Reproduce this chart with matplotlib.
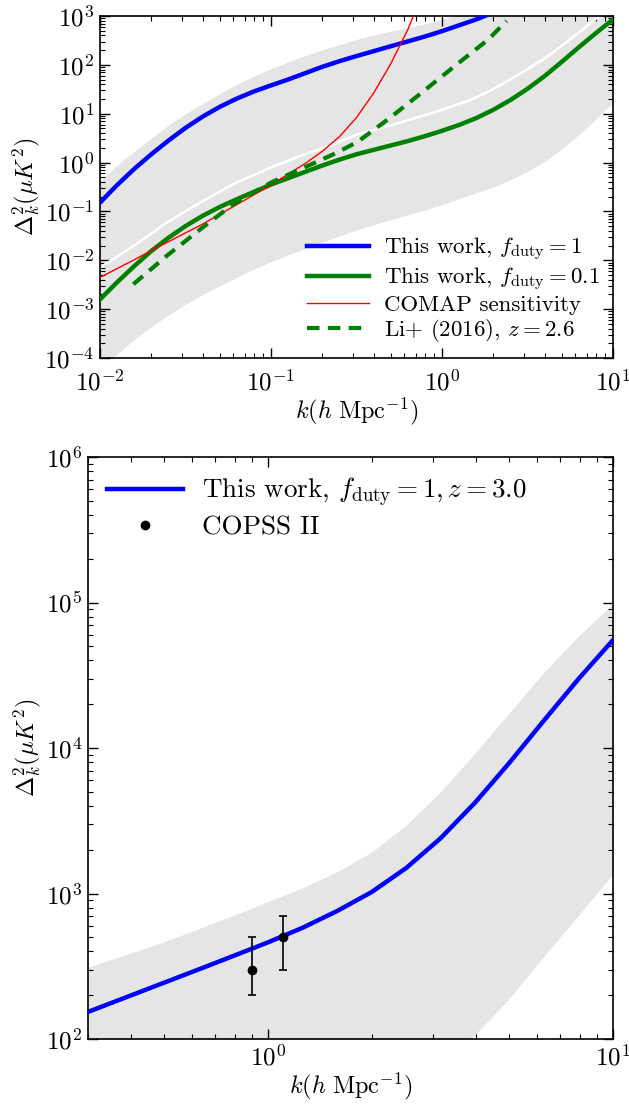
import matplotlib
matplotlib.use("Agg")
import matplotlib.pyplot as plt
import numpy as np
from matplotlib.lines import Line2D

plt.rcParams['font.family'] = 'serif'
plt.rcParams['font.serif'] = ['cmr10']
plt.rcParams['mathtext.fontset'] = 'cm'
plt.rcParams['axes.formatter.use_mathtext'] = True

# ---------------- top panel data (log10 k, log10 Delta^2) ----------------
lk_blue = [-2.0, -1.9, -1.8, -1.7, -1.6, -1.5, -1.4, -1.3, -1.2, -1.1, -1.0, -0.9, -0.8, -0.7,
           -0.6, -0.5, -0.4, -0.3, -0.2, -0.1, 0.0, 0.1, 0.2, 0.25]
ly_blue = [-0.82, -0.46, -0.13, 0.17, 0.45, 0.71, 0.94, 1.14, 1.31, 1.455, 1.58, 1.70, 1.83, 1.96,
           2.075, 2.18, 2.28, 2.38, 2.48, 2.58, 2.69, 2.81, 2.93, 3.0]

lk_green = [-2.0, -1.9, -1.8, -1.7, -1.6, -1.5, -1.4, -1.3, -1.2, -1.1, -1.0, -0.9, -0.8, -0.7,
            -0.6, -0.5, -0.4, -0.3, -0.2, -0.1, 0.0, 0.1, 0.2, 0.3, 0.4, 0.5, 0.6, 0.7, 0.8, 0.9, 1.0]
ly_green = [-2.80, -2.45, -2.12, -1.81, -1.54, -1.30, -1.09, -0.91, -0.75, -0.60, -0.45, -0.32, -0.19,
            -0.06, 0.06, 0.17, 0.26, 0.35, 0.44, 0.54, 0.65, 0.77, 0.91, 1.08, 1.28, 1.51, 1.77, 2.06,
            2.36, 2.65, 2.93]

lk_red = [-2.0, -1.9, -1.8, -1.7, -1.6, -1.5, -1.4, -1.3, -1.2, -1.1, -1.0, -0.9, -0.8, -0.7,
          -0.6, -0.5, -0.4, -0.3, -0.2, -0.168]
ly_red = [-2.35, -2.17, -1.99, -1.80, -1.62, -1.44, -1.26, -1.06, -0.86, -0.66, -0.46, -0.235, -0.02,
          0.23, 0.53, 0.92, 1.42, 2.02, 2.72, 3.0]

lk_li = [-1.805, -1.61, -1.415, -1.22, -1.0, -0.83, -0.635, -0.495, -0.314, -0.119, 0.076, 0.271, 0.378]
ly_li = [-2.49, -1.91, -1.37, -0.85, -0.41, -0.14, 0.17, 0.42, 0.89, 1.43, 1.98, 2.52, 2.90]

lk_mid = [-2.0, -1.805, -1.61, -1.415, -1.22, -1.0, -0.83, -0.635, -0.495, -0.3, -0.119, 0.0, 0.173,
          0.3, 0.466, 0.6, 0.70, 0.8, 0.895, 1.0]
ly_mid = [-2.15, -1.71, -1.23, -0.82, -0.44, -0.10, 0.135, 0.37, 0.58, 0.76, 0.95, 1.08, 1.29,
          1.50, 1.84, 2.13, 2.39, 2.66, 2.93, 3.2]

lk_band = [-2.0, -1.9, -1.8, -1.7, -1.6, -1.5, -1.4, -1.3, -1.2, -1.1, -1.0, -0.9, -0.8, -0.7, -0.6,
           -0.5, -0.4, -0.3, -0.2, -0.1, 0.0, 0.1, 0.2, 0.3, 0.4, 0.5, 0.6, 0.7, 0.8, 0.9, 1.0]
ly_band_up = [-0.38, -0.05, 0.23, 0.50, 0.77, 1.00, 1.21, 1.41, 1.60, 1.77, 1.92, 2.06, 2.19, 2.31, 2.42,
              2.52, 2.61, 2.69, 2.76, 2.84, 2.93, 3.03, 3.15, 3.3, 3.4, 3.5, 3.6, 3.7, 3.8, 3.9, 4.0]
ly_band_lo = [-4.3, -3.92, -3.62, -3.36, -3.12, -2.90, -2.70, -2.52, -2.35, -2.18, -2.03, -1.89, -1.76,
              -1.63, -1.50, -1.38, -1.27, -1.17, -1.07, -0.97, -0.86, -0.74, -0.62, -0.50, -0.35, -0.18,
              0.02, 0.28, 0.57, 0.89, 1.23]

# ---------------- bottom panel data (log10 k, log10 Delta^2) ----------------
lk_b2 = [-0.523, -0.4, -0.3, -0.2, -0.1, 0.0, 0.1, 0.2, 0.3, 0.4, 0.5, 0.6, 0.7, 0.8, 0.9, 1.0]
ly_b2 = [2.186, 2.298, 2.389, 2.480, 2.572, 2.665, 2.765, 2.880, 3.010, 3.175, 3.38, 3.625, 3.90,
         4.19, 4.475, 4.742]
ly_band2_up = [2.495, 2.59, 2.67, 2.76, 2.85, 2.945, 3.04, 3.15, 3.285, 3.47, 3.70, 3.965, 4.245,
               4.52, 4.77, 4.99]
ly_band2_lo = [1.2, 1.25, 1.3, 1.37, 1.43, 1.5, 1.57, 1.63, 1.7, 1.79, 1.87, 2.03, 2.28, 2.57, 2.85, 3.134]

k_copss = [0.9, 1.1]
y_copss = [300, 500]
err_lo = [100, 200]
err_hi = [200, 200]

band_color = '#e5e5e5'


def p(a):
    return np.power(10.0, np.asarray(a))


fig = plt.figure(figsize=(6.29, 11.04), dpi=100)
ax1 = fig.add_axes([100/629, 1 - 358/1104, 513/629, 342/1104])
ax2 = fig.add_axes([88/629, 1 - 1039/1104, 525/629, 582/1104])

for ax in (ax1, ax2):
    ax.set_xscale('log')
    ax.set_yscale('log')
    ax.tick_params(which='both', direction='in', top=True, right=True, labelsize=18, pad=4)
    ax.tick_params(which='major', length=7, width=1)
    ax.tick_params(which='minor', length=3.5, width=0.8)
    for s in ax.spines.values():
        s.set_linewidth(1.2)
ax1.tick_params(axis='x', which='both', pad=8)
ax2.tick_params(axis='x', which='both', pad=4)

# top
ax1.fill_between(p(lk_band), p(ly_band_lo), p(ly_band_up), color=band_color, lw=0, zorder=1)
ax1.plot(p(lk_mid), p(ly_mid), color='white', lw=1.8, zorder=2)
l1, = ax1.plot(p(lk_blue), p(ly_blue), color='blue', lw=3.2, zorder=3)
l2, = ax1.plot(p(lk_green), p(ly_green), color='green', lw=3.2, zorder=3)
l3, = ax1.plot(p(lk_red), p(ly_red), color='red', lw=1, zorder=4)
l4, = ax1.plot(p(lk_li), p(ly_li), color='green', lw=3, ls='--', dashes=(3, 2), zorder=4)
ax1.set_xlim(1e-2, 1e1)
ax1.set_ylim(1e-4, 1e3)
ax1.set_xlabel(r'$k(h\ {\rm Mpc}^{-1})$', fontsize=17.5, labelpad=0)
ax1.set_ylabel(r'$\Delta^2_k(\mu K^2)$', fontsize=17.5, labelpad=2)
ax1.legend(handles=[l1, l2, l3, l4],
           labels=[r'This work, $f_{\rm duty}=1$', r'This work, $f_{\rm duty}=0.1$',
                   'COMAP sensitivity', r'Li+ (2016), $z=2.6$'],
           loc='lower right', frameon=False, fontsize=16.5,
           handlelength=2.7, handletextpad=0.65, labelspacing=0.1, borderaxespad=0.2)

# bottom
ax2.fill_between(p(lk_b2), p(ly_band2_lo), p(ly_band2_up), color=band_color, lw=0, zorder=1)
lb, = ax2.plot(p(lk_b2), p(ly_b2), color='blue', lw=3.2, zorder=3)
ax2.errorbar(k_copss, y_copss, yerr=[err_lo, err_hi], fmt='o', color='black', ms=6,
             capsize=3, elinewidth=1.2, capthick=1.2, zorder=4)
ax2.set_xlim(0.3, 10)
ax2.set_ylim(1e2, 1e6)
ax2.set_xlabel(r'$k(h\ {\rm Mpc}^{-1})$', fontsize=17.5, labelpad=0)
ax2.set_ylabel(r'$\Delta^2_k(\mu K^2)$', fontsize=17.5, labelpad=2)
dot = Line2D([], [], marker='o', ls='none', color='black', ms=6)
ax2.legend(handles=[lb, dot], labels=[r'This work, $f_{\rm duty}=1, z=3.0$', 'COPSS II'],
           loc='upper left', frameon=False, fontsize=19.5, handlelength=2.8,
           handletextpad=0.7, labelspacing=0.25, borderaxespad=0.3)

fig.savefig('out.png', dpi=100)
